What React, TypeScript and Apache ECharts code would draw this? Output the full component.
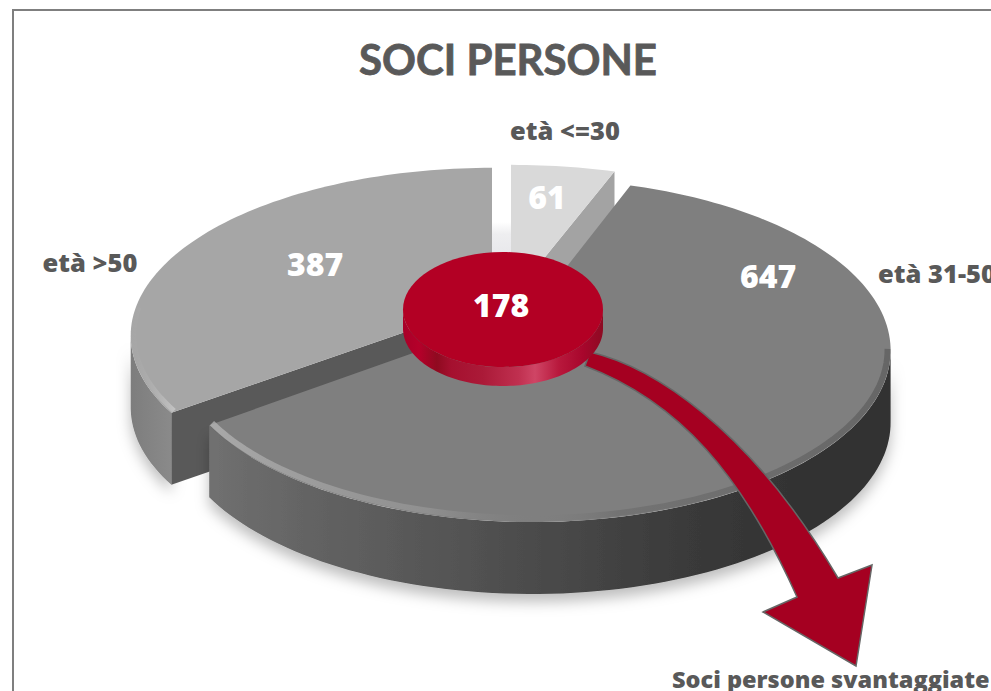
import React, { useEffect, useRef } from "react";
import * as echarts from "echarts";

const titleText = "SOCI PERSONE";
const sliceLabels = ["età <=30", "età 31-50", "età >50"];
const sliceValues = [61, 647, 387];
const highlightValue = 178;
const highlightLabel = "Soci persone svantaggiate";

const drawOrder = [0, 2, 1];
const geometry = [
  { ax: 511, ay: 299, rx: 367, ry: 165, k: 0.23 },
  { ax: 532, ay: 311, rx: 349, ry: 162.5, k: 0.23 },
  { ax: 492, ay: 302, rx: 354, ry: 161, k: 0.2 },
];
const topColors = ["#d9d9d9", "#7f7f7f", "#a6a6a6"];
const cutColors = ["#a3a3a3", "#6a6a6a", "#595959"];
const valuePositions = [[547, 196], [768, 275], [315, 263]];
const labelPositions = [[565, 130], [878, 273], [90, 262]];
const depth = 72;

const total = sliceValues.reduce((a, b) => a + b, 0);
function sliceAngles(i: number) {
  let start = 0;
  for (let j = 0; j < i; j++) start += (sliceValues[j] / total) * 360;
  return [start, start + (sliceValues[i] / total) * 360];
}
function project(g: any, deg: number) {
  const t = (deg * Math.PI) / 180;
  const X = Math.sin(t);
  const Y = -Math.cos(t);
  const w = 1 - g.k * Y;
  return [g.ax + (g.rx * X) / w, g.ay + (g.ry * Y) / w];
}
function arc(g: any, a: number, b: number) {
  const pts: number[][] = [];
  const n = Math.max(4, Math.ceil(Math.abs(b - a) / 1.5));
  for (let i = 0; i <= n; i++) pts.push(project(g, a + ((b - a) * i) / n));
  return pts;
}
const lin = (stops: [number, string][]) => ({
  type: "linear", x: 0, y: 0, x2: 1, y2: 0,
  colorStops: stops.map(([offset, color]) => ({ offset, color })),
});
const down = (pts: number[][]) => pts.map((p) => [p[0], p[1] + depth]).reverse();
const shadow = { shadowBlur: 14, shadowColor: "rgba(0,0,0,0.26)", shadowOffsetX: 0, shadowOffsetY: 8 };

function renderSlice(_: any, api: any) {
  const i = api.value(1);
  const g = geometry[i];
  const [a, b] = sliceAngles(i);
  const top = arc(g, a, b);
  const apex = [g.ax, g.ay];
  const children: any[] = [];
  if (i === 0) {
    children.push({
      type: "polygon",
      shape: { points: [[492, 222], [511, 222], [511, 262], [492, 262]] },
      style: { fill: { type: "linear", x: 0, y: 0, x2: 0, y2: 1, colorStops: [
        { offset: 0, color: "#ffffff" }, { offset: 0.3, color: "#eeeef0" }, { offset: 1, color: "#e6e6ea" } ] } },
    });
    const c = project(g, b);
    children.push({
      type: "polygon",
      shape: { points: [apex, c, [c[0], c[1] + depth], [apex[0], apex[1] + depth]] },
      style: { fill: cutColors[0] },
    });
  }
  if (i === 2) {
    const c = project(g, a);
    const side = arc(g, a, 258);
    children.push({
      type: "polygon",
      shape: { points: [...side, ...down(side)] },
      style: { fill: lin([[0, "#7d7d7d"], [0.6, "#858585"], [1, "#8a8a8a"]]), ...shadow },
    });
    children.push({
      type: "polygon",
      shape: { points: [apex, c, [c[0], c[1] + depth], [apex[0], apex[1] + depth]] },
      style: { fill: cutColors[2] },
    });
  }
  if (i === 1) {
    const side = arc(g, 103, b);
    children.push({
      type: "polygon",
      shape: { points: [...side, ...down(side)] },
      style: {
        fill: lin([[0, "#707070"], [0.15, "#636363"], [0.45, "#4d4d4d"], [0.7, "#3a3a3a"], [0.85, "#333333"], [1, "#333333"]]),
        ...shadow,
      },
    });
  }
  children.push({
    type: "polygon",
    shape: { points: [apex, ...top] },
    style: { fill: topColors[i] },
  });
  if (i === 1) {
    const rim = arc({ ...g, rx: g.rx - 3, ry: g.ry - 3 }, 103, b);
    children.push({
      type: "polyline",
      shape: { points: rim },
      style: {
        fill: "none", lineWidth: 6, opacity: 0.8,
        stroke: lin([[0, "rgba(185,185,185,0.9)"], [0.32, "rgba(165,165,165,0.55)"], [0.48, "rgba(128,128,128,0)"], [0.6, "rgba(90,90,90,0.4)"], [1, "rgba(70,70,70,0.55)"]]),
      },
    });
  }
  if (i === 2) {
    const rim = arc({ ...g, rx: g.rx - 3, ry: g.ry - 3 }, a, 268);
    children.push({
      type: "polyline",
      shape: { points: rim },
      style: { fill: "none", lineWidth: 5, opacity: 0.85, stroke: lin([[0, "rgba(170,170,170,0.2)"], [1, "#c6c6c6"]]) },
    });
  }
  return { type: "group", children };
}

const arrowPath =
  "M590 352 C650 366 748 425 838 578 L872 565 L856 666 L763 612 L797 597 C742 475 680 402 585 366 Z";

function ellipsePoints(cx: number, cy: number, rx: number, ry: number, a: number, b: number) {
  const pts: number[][] = [];
  for (let i = 0; i <= 90; i++) {
    const t = ((a + ((b - a) * i) / 90) * Math.PI) / 180;
    pts.push([cx + rx * Math.cos(t), cy + ry * Math.sin(t)]);
  }
  return pts;
}

function renderHighlight() {
  const cx = 503, cy = 309.5, rx = 100, ry = 57.5, h = 19;
  const front = ellipsePoints(cx, cy, rx, ry, 0, 180);
  const back = front.map((p) => [p[0], p[1] + h]).reverse();
  return {
    type: "group",
    children: [
      { type: "path", shape: { pathData: arrowPath }, style: { fill: "#a50021", stroke: "#666666", lineWidth: 1.5 } },
      {
        type: "polygon",
        shape: { points: [...front, ...back] },
        style: {
          fill: lin([[0, "#a80028"], [0.08, "#b5002a"], [0.17, "#8f0a20"], [0.24, "#a5102f"], [0.4, "#ab1a38"], [0.58, "#c03050"], [0.66, "#cf4565"], [0.78, "#b8183c"], [0.9, "#a8062c"], [1, "#8d0a22"]]),
        },
      },
      { type: "ellipse", shape: { cx, cy, rx, ry }, style: { fill: "#b30024" } },
    ],
  };
}

function text(t: string, x: number, y: number, font: string, fill: string, align = "center") {
  return { type: "text", x, y, style: { text: t, font, fill, align, verticalAlign: "middle" } };
}
const labelFont = '800 25.5px "Open Sans"';
const valueFont = '800 32px "Open Sans"';

function renderLabels() {
  const children: any[] = [];
  sliceValues.forEach((v, i) => {
    children.push(text(String(v), valuePositions[i][0], valuePositions[i][1], valueFont, "#ffffff"));
    children.push(text(sliceLabels[i], labelPositions[i][0], labelPositions[i][1], labelFont, "#595959", i === 1 ? "left" : "center"));
  });
  children.push(text(String(highlightValue), 501, 304, valueFont, "#ffffff"));
  children.push(text(highlightLabel, 672, 679, '800 23.5px "Open Sans"', "#595959", "left"));
  return { type: "group", children };
}

export default function App() {
  const ref = useRef<HTMLDivElement>(null);
  useEffect(() => {
    document.body.style.margin = "0";
    const chart = echarts.init(ref.current!, undefined, { renderer: "svg" });
    chart.setOption({
      animation: false,
      backgroundColor: "#ffffff",
      title: {
        text: titleText, left: 503, top: 54, textAlign: "center", textVerticalAlign: "middle",
        textStyle: { fontFamily: "Lato", fontWeight: "bold", fontSize: 42, color: "#595959", textBorderColor: "#595959", textBorderWidth: 0.8 },
      },
      graphic: [{
        type: "rect", z: 0,
        shape: { x: 13, y: 10, width: 1200, height: 900 },
        style: { fill: "none", stroke: "#7f7f7f", lineWidth: 2 },
      }],
      series: [
        {
          type: "custom", coordinateSystem: "none", z: 2, silent: true,
          data: drawOrder.map((i) => [sliceValues[i], i]),
          renderItem: renderSlice,
        },
        {
          type: "custom", coordinateSystem: "none", z: 3, silent: true,
          data: [[highlightValue]],
          renderItem: renderHighlight,
        },
        {
          type: "custom", coordinateSystem: "none", z: 4, silent: true,
          data: [[total]],
          renderItem: renderLabels,
        },
      ],
    });
    return () => chart.dispose();
  }, []);
  return <div ref={ref} style={{ position: "fixed", left: 0, top: 0, width: 991, height: 691 }} />;
}
